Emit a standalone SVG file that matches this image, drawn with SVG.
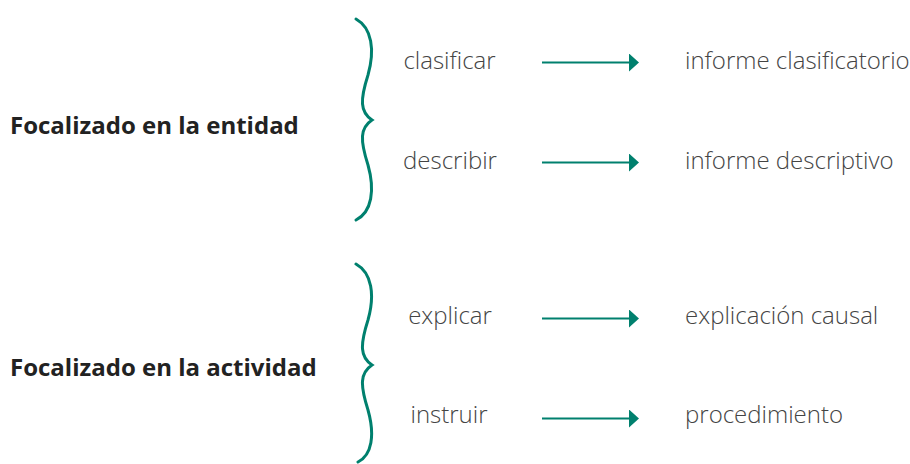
<svg xmlns="http://www.w3.org/2000/svg" width="910" height="464" viewBox="0 0 910 464">
<defs>
<style>
.h{font-family:"Open Sans","Liberation Sans",sans-serif;font-weight:bold;font-size:24px;fill:#222}
.m{font-family:"Open Sans","Liberation Sans",sans-serif;font-weight:300;font-size:24px;fill:#444;text-anchor:middle}
.r{font-family:"Open Sans","Liberation Sans",sans-serif;font-weight:300;font-size:24px;fill:#444}
.br{fill:none;stroke:#00806e;stroke-width:3;stroke-linecap:round}
.ar{fill:none;stroke:#00806e;stroke-width:2}
</style>
<marker id="ah" markerWidth="10" markerHeight="18" refX="0" refY="9" orient="auto" markerUnits="userSpaceOnUse">
<path d="M0,0 L10,9 L0,18 Z" fill="#00806e"/>
</marker>
</defs>
<rect width="910" height="464" fill="#fff"/>
<g id="n-entidad">
<text class="h" x="10" y="134">Focalizado en la entidad</text>
<path class="br" d="M356,19 C372,28 375,50 368,75 C360,100 360,112 372,120 C360,128 360,140 368,165 C375,190 372,212 356,220"/>
</g>
<g id="n-actividad">
<text class="h" x="10" y="376">Focalizado en la actividad</text>
<path class="br" d="M356,264 C372,273 375,295 368,320 C360,345 360,357 372,365 C360,373 360,385 368,410 C375,435 372,455 358,462"/>
</g>
<g id="n-clasificar"><text class="m" x="449.5" y="69">clasificar</text></g>
<g id="n-describir"><text class="m" x="450" y="169">describir</text></g>
<g id="n-explicar"><text class="m" x="450" y="324">explicar</text></g>
<g id="n-instruir"><text class="m" x="449" y="423">instruir</text></g>
<g id="n-informe-clas"><text class="r" x="685" y="69">informe clasificatorio</text></g>
<g id="n-informe-desc"><text class="r" x="685" y="169">informe descriptivo</text></g>
<g id="n-explicacion"><text class="r" x="685" y="324">explicación causal</text></g>
<g id="n-procedimiento"><text class="r" x="685" y="423">procedimiento</text></g>
<g id="connectors">
<path class="ar" d="M542,62.5 H629" marker-end="url(#ah)"/>
<path class="ar" d="M542,162.5 H629" marker-end="url(#ah)"/>
<path class="ar" d="M542,318.5 H629" marker-end="url(#ah)"/>
<path class="ar" d="M542,418.5 H629" marker-end="url(#ah)"/>
</g>
</svg>
